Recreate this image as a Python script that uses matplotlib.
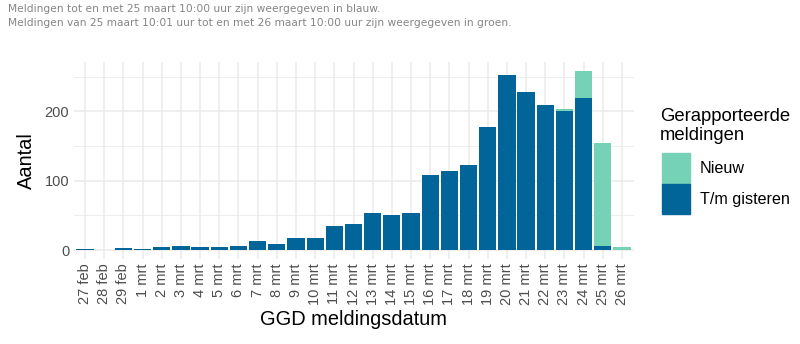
import numpy as np
import matplotlib.pyplot as plt
from matplotlib.patches import Patch

plt.rcParams['font.family'] = ['Liberation Sans', 'DejaVu Sans']

dates = ['27 feb', '28 feb', '29 feb', '1 mrt', '2 mrt', '3 mrt', '4 mrt', '5 mrt',
         '6 mrt', '7 mrt', '8 mrt', '9 mrt', '10 mrt', '11 mrt', '12 mrt', '13 mrt',
         '14 mrt', '15 mrt', '16 mrt', '17 mrt', '18 mrt', '19 mrt', '20 mrt',
         '21 mrt', '22 mrt', '23 mrt', '24 mrt', '25 mrt', '26 mrt']
gisteren = [1, 0, 3, 2, 4, 6, 5, 5, 6, 13, 9, 17, 18, 35, 37, 53, 51, 53,
            108, 114, 122, 178, 252, 228, 210, 200, 219, 6, 0]
nieuw = [0, 0, 0, 0, 0, 0, 0, 0, 0, 0, 0, 0, 0, 0, 0, 0, 0, 0,
         0, 0, 0, 0, 0, 0, 0, 3, 40, 148, 4]

blauw = '#01659A'
groen = '#76D2B6'
grid = '#EBEBEB'
tekst = '#4D4D4D'

fig = plt.figure(figsize=(8, 3.44), dpi=100)
ax = fig.add_axes([73.5 / 800, 85 / 344, 560 / 800, 197.4 / 344])

x = np.arange(len(dates))
ax.bar(x, gisteren, width=0.9, color=blauw, zorder=3)
ax.bar(x, nieuw, width=0.9, bottom=gisteren, color=groen, zorder=3)

totaal = np.array(gisteren) + np.array(nieuw)
ymax = totaal.max()
ax.set_ylim(-0.05 * ymax, ymax * 1.05)
ax.set_xlim(-0.6, len(dates) - 0.4)

ax.set_yticks([0, 100, 200])
ax.set_yticks([50, 150, 250], minor=True)
ax.set_xticks(x)
ax.set_xticklabels(dates, rotation=90, fontsize=10.5, color=tekst)
ax.tick_params(axis='y', labelsize=10.5, labelcolor=tekst)
ax.tick_params(which='both', length=0, pad=3)
ax.grid(True, which='major', color=grid, linewidth=1.1, zorder=0)
ax.grid(True, which='minor', axis='y', color=grid, linewidth=0.6, zorder=0)
for s in ax.spines.values():
    s.set_visible(False)

ax.set_ylabel('Aantal', fontsize=14.4, color='black', labelpad=6)
ax.set_xlabel('GGD meldingsdatum', fontsize=14.4, color='black', labelpad=4)

fig.text(8 / 800, 1 - 9 / 344, 'Meldingen tot en met 25 maart 10:00 uur zijn weergegeven in blauw.',
         family='DejaVu Sans', fontsize=7.7, color='#858585', va='center')
fig.text(8 / 800, 1 - 23 / 344, 'Meldingen van 25 maart 10:01 uur tot en met 26 maart 10:00 uur zijn weergegeven in groen.',
         family='DejaVu Sans', fontsize=7.7, color='#858585', va='center')

# legenda
fig.text(660 / 800, 1 - 126 / 344, 'Gerapporteerde\nmeldingen', fontsize=13.3,
         ha='left', va='center', linespacing=1.15)
handles = [Patch(color=groen, label='Nieuw'), Patch(color=blauw, label='T/m gisteren')]
fig.legend(handles=handles, loc='upper left',
           bbox_to_anchor=(662 / 800, 1 - 153 / 344), frameon=False,
           fontsize=11.6, borderpad=0, borderaxespad=0,
           handlelength=1.74, handleheight=2.55, labelspacing=0.0,
           handletextpad=0.62)

fig.savefig('out.png', dpi=100)
